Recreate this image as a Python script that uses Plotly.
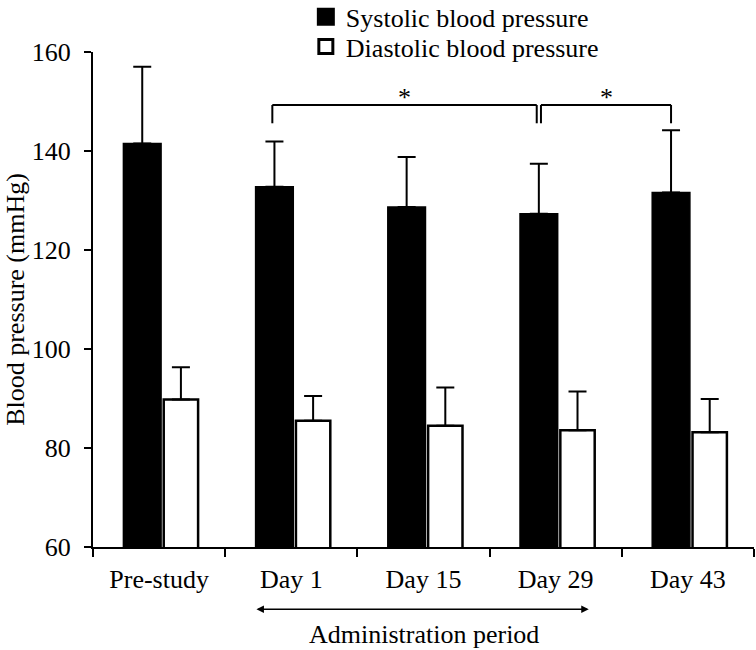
import plotly.graph_objects as go

# ---- data ----
categories = ["Pre-study", "Day 1", "Day 15", "Day 29", "Day 43"]
systolic = [141.5, 132.8, 128.7, 127.3, 131.6]
systolic_sd = [15.5, 9.1, 10.1, 10.1, 12.6]
diastolic = [89.8, 85.5, 84.5, 83.6, 83.2]
diastolic_sd = [6.5, 5.0, 7.7, 7.8, 6.7]
y_ticks = [60, 80, 100, 120, 140, 160]
sig_pairs = [("Day 1", "Day 29"), ("Day 29", "Day 43")]
sig_label = "*"
period_span = ("Day 1", "Day 29")
period_label = "Administration period"
series_names = ["Systolic blood pressure", "Diastolic blood pressure"]
y_title = "Blood pressure (mmHg)"

FONT = "Liberation Serif, Times New Roman, serif"
FS = 26
pos = list(range(len(categories)))

# bar geometry (data units within one category)
sys_off, sys_w = -0.27, 0.285
dia_off, dia_w = 0.035, 0.26

fig = go.Figure()
fig.add_trace(go.Bar(
    x=pos, y=systolic, name=series_names[0], showlegend=False,
    offset=sys_off, width=sys_w,
    marker=dict(color="black", line=dict(color="black", width=1.5)),
    error_y=dict(type="data", symmetric=False, array=systolic_sd,
                 arrayminus=[0] * len(systolic), color="black",
                 thickness=2, width=9),
))
fig.add_trace(go.Bar(
    x=pos, y=diastolic, name=series_names[1], showlegend=False,
    offset=dia_off, width=dia_w,
    marker=dict(color="white", line=dict(color="black", width=2.5)),
    error_y=dict(type="data", symmetric=False, array=diastolic_sd,
                 arrayminus=[0] * len(diastolic), color="black",
                 thickness=2, width=9),
))
# legend entries (square swatches)
fig.add_trace(go.Scatter(x=[None], y=[None], mode="markers", name=series_names[0],
                         legend="legend",
                         marker=dict(symbol="square", size=16, color="black",
                                     line=dict(color="black", width=2))))
fig.add_trace(go.Scatter(x=[None], y=[None], mode="markers", name=series_names[1],
                         legend="legend2",
                         marker=dict(symbol="square", size=14, color="white",
                                     line=dict(color="black", width=3))))

# significance brackets
sys_center = sys_off + sys_w / 2
bracket_top, bracket_low = 149.3, 145.6
gap = 0.016
for i, (a, b) in enumerate(sig_pairs):
    xa = categories.index(a) + sys_center + (gap if i > 0 else -gap)
    xb = categories.index(b) + sys_center + (-gap if i == 0 else 0)
    fig.add_shape(type="line", xref="x", yref="y",
                  x0=xa, x1=xa, y0=bracket_low, y1=bracket_top,
                  line=dict(color="black", width=2))
    fig.add_shape(type="line", xref="x", yref="y",
                  x0=xa, x1=xb, y0=bracket_top, y1=bracket_top,
                  line=dict(color="black", width=2))
    fig.add_shape(type="line", xref="x", yref="y",
                  x0=xb, x1=xb, y0=bracket_top, y1=bracket_low,
                  line=dict(color="black", width=2))
    fig.add_annotation(x=(xa + xb) / 2, y=150.8, xref="x", yref="y",
                       text=sig_label, showarrow=False, yanchor="middle",
                       font=dict(family=FONT, size=FS, color="black"))

# administration period arrow
pa = categories.index(period_span[0]) - 0.275
pb = categories.index(period_span[1]) + 0.25
fig.add_annotation(x=pb, y=-0.126, xref="x", yref="paper",
                   ax=pa, ay=0, axref="x", ayref="pixel",
                   text="", showarrow=True, arrowhead=2, startarrowhead=2,
                   arrowside="end+start", arrowwidth=1.5, arrowsize=1,
                   arrowcolor="black", startarrowsize=1)
fig.add_annotation(x=(categories.index(period_span[0]) + categories.index(period_span[1])) / 2,
                   y=-0.177, xref="x", yref="paper", text=period_label,
                   showarrow=False, yanchor="middle",
                   font=dict(family=FONT, size=FS, color="black"))

legend_common = dict(xanchor="left", yanchor="middle", bgcolor="rgba(0,0,0,0)",
                     font=dict(family=FONT, size=FS, color="black"),
                     itemsizing="trace")
fig.update_layout(
    width=756, height=650,
    margin=dict(l=93, r=2, t=52, b=103, autoexpand=False),
    paper_bgcolor="white", plot_bgcolor="white",
    font=dict(family=FONT, size=FS, color="black"),
    showlegend=True,
    legend=dict(x=0.322, y=1.0708, **legend_common),
    legend2=dict(x=0.322, y=1.0107, **legend_common),
    xaxis=dict(range=[-0.5, 4.5], tickvals=pos, ticktext=categories,
               ticks="", showline=True, linecolor="black", linewidth=2,
               showgrid=False, zeroline=False, ticklabelstandoff=8,
               automargin=False,
               minor=dict(tickmode="linear", tick0=-0.5, dtick=1, ticks="outside",
                          ticklen=8, tickwidth=2, tickcolor="black", showgrid=False)),
    yaxis=dict(range=[60, 160], tickvals=y_ticks, ticks="outside", ticklen=7,
               tickwidth=2, tickcolor="black", showline=True, linecolor="black",
               linewidth=2, showgrid=False, zeroline=False, ticklabelstandoff=8,
               automargin=False,
               title=dict(text=y_title, standoff=0,
                          font=dict(family=FONT, size=FS, color="black"))),
)

fig.write_html("out.html", config={"displayModeBar": False},
               post_script="document.body.style.margin='0px';")
